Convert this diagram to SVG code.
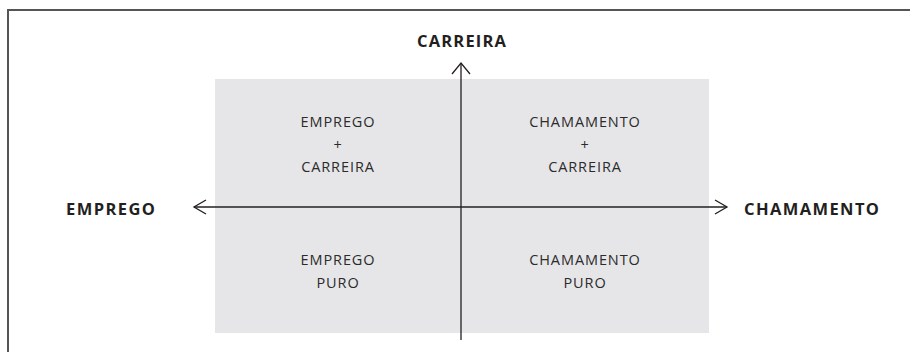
<svg xmlns="http://www.w3.org/2000/svg" width="910" height="352" viewBox="0 0 910 352">
<style>
.frame{fill:none;stroke:#555;stroke-width:2}
.quad{fill:#e6e6e8}
.axis{fill:none;stroke:#231f20;stroke-width:1.3}
.head{fill:none;stroke:#231f20;stroke-width:1.3}
.lbl{font-family:"Open Sans","Noto Sans",sans-serif;font-weight:bold;font-size:16.5px;fill:#231f20}
.q{font-family:"Open Sans","Noto Sans",sans-serif;font-size:14.5px;fill:#2b2b2b;text-anchor:middle;letter-spacing:0.9px}
</style>
<rect class="frame" x="8" y="10" width="960" height="400"/>
<rect class="quad" x="215" y="79" width="494" height="254"/>
<g id="connectors">
<line class="axis" x1="194" y1="207" x2="727" y2="207"/>
<line class="axis" x1="461" y1="63" x2="461" y2="340"/>
<path class="head" d="M206,200 L194,207 L206,214"/>
<path class="head" d="M715,200 L727,207 L715,214"/>
<path class="head" d="M452,74 L461,63 L470,74"/>
</g>
<g id="carreira"><text class="lbl" x="417" y="47" textLength="89" lengthAdjust="spacing">CARREIRA</text></g>
<g id="emprego"><text class="lbl" x="66" y="215" textLength="89" lengthAdjust="spacing">EMPREGO</text></g>
<g id="chamamento"><text class="lbl" x="744" y="215" textLength="135" lengthAdjust="spacing">CHAMAMENTO</text></g>
<g id="q-emprego-carreira"><text class="q" x="338" y="127">EMPREGO</text><text class="q" x="338" y="150">+</text><text class="q" x="338" y="172">CARREIRA</text></g>
<g id="q-chamamento-carreira"><text class="q" x="585" y="127">CHAMAMENTO</text><text class="q" x="585" y="150">+</text><text class="q" x="585" y="172">CARREIRA</text></g>
<g id="q-emprego-puro"><text class="q" x="338" y="265">EMPREGO</text><text class="q" x="338" y="288">PURO</text></g>
<g id="q-chamamento-puro"><text class="q" x="585" y="265">CHAMAMENTO</text><text class="q" x="585" y="288">PURO</text></g>
</svg>
